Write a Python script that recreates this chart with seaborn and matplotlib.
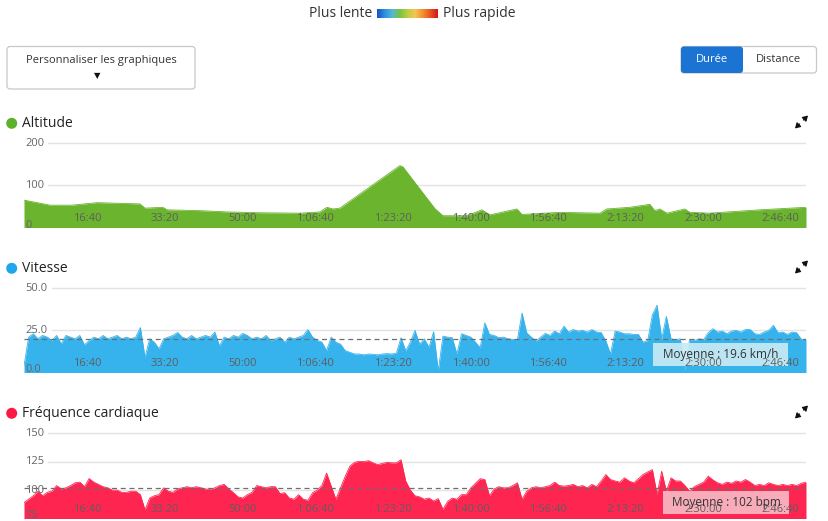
import numpy as np
import pandas as pd
import seaborn as sns
import matplotlib.pyplot as plt
from matplotlib.patches import FancyBboxPatch, Circle, FancyArrowPatch, Rectangle
from matplotlib.colors import LinearSegmentedColormap
from matplotlib.transforms import Affine2D

sns.set_theme(style="white")
plt.rcParams["font.family"] = ["Open Sans", "DejaVu Sans"]

W, H = 829, 521

# ---- data ----
tick_seconds = [1000, 2000, 3000, 4000, 5000, 6000, 7000, 8000, 9000, 10000]
tick_labels = ["16:40", "33:20", "50:00", "1:06:40", "1:23:20",
               "1:40:00", "1:56:40", "2:13:20", "2:30:00", "2:46:40"]
end_seconds = 10080

alt_time = [0, 142, 335, 619, 941, 1495, 1559, 1791, 1843, 2268, 2616, 3041,
            3557, 3814, 3905, 3982, 4072, 4845, 4884, 5296, 5399, 5709, 5902,
            6005, 6353, 6418, 6907, 7423, 7513, 7809, 8067, 8131, 8196, 8286,
            8518, 8582, 8840, 9485, 10080]
alt_values = [65, 60, 53, 53, 59, 56, 46, 48, 42, 40, 37, 35,
              34, 37, 48, 44, 46, 147, 144, 45, 28, 28, 42,
              30, 44, 31, 36, 34, 44, 48, 55, 40, 44, 34,
              44, 36, 34, 42, 48]

sample_step = 60  # seconds between samples
speed_values = [
    4, 21, 23, 20, 22, 21, 19, 22, 17, 22,
    21, 20, 22, 16.4, 19, 21, 20, 22, 20, 21,
    22, 20, 21, 20, 21, 26.7, 9, 20, 18, 14,
    20, 21, 22, 23.8, 21, 20, 22, 20, 21, 22,
    21, 24, 15.8, 21, 20, 22, 21, 23.2, 22, 20,
    21, 20, 22, 19, 20, 21, 18, 21, 20, 21,
    22, 25.5, 21, 19, 18, 13, 21, 18, 16.8, 13,
    12, 11, 11, 10.5, 11, 10.8, 10.5, 11, 11.2, 11,
    11.5, 20.7, 12.9, 18, 25, 16.8, 20, 15, 24.2, 1,
    21.6, 21, 20.7, 11, 23, 22, 21, 18, 14.8, 29.5,
    22.6, 22, 20.7, 21, 20, 19.7, 19.5, 35.3, 23.6, 21,
    18.7, 21, 23.2, 22, 24.6, 23, 27.5, 24, 25.5, 24.6,
    25, 24, 25.5, 24, 23.7, 18.7, 11, 24.6, 24, 23,
    23, 22.6, 22.6, 18, 19, 34.3, 40, 20, 33.3, 20,
    19.5, 20, 1.5, 19.5, 19, 20, 19.5, 23.6, 26, 24,
    24.6, 23, 24.6, 25, 24, 25.5, 25.5, 23, 22.6, 24,
    25, 28, 23.6, 24, 22.6, 24, 23.6, 19.7, 19.7,
]
hr_values = [
    89, 92, 95, 99, 95, 98, 99, 104, 101, 102,
    104, 106.4, 107, 103, 110.2, 107, 105, 103, 102, 100,
    100, 98, 98, 99, 99, 96, 82.6, 93, 95, 96,
    102, 99, 98, 101, 102, 103, 102, 103, 102, 101,
    100.6, 102, 104, 105, 101, 97.7, 94, 93, 96, 98,
    104, 103, 102, 103, 103, 97, 97.7, 93, 92, 96,
    92, 91, 97.7, 100, 104, 115, 103.5, 92, 102, 112,
    121, 124.4, 125.3, 125, 125.9, 124, 122.4, 123.5, 124.4, 124,
    124, 126.7, 108, 100, 95, 94, 92, 93, 90.4, 92.5,
    83, 90, 93, 92, 96, 96, 102, 106, 110, 109.3,
    95, 101, 103, 102, 102, 104, 106.4, 92, 99, 102,
    103, 102, 103, 104, 107, 104, 103.5, 104, 105, 103,
    104, 102, 105, 103, 108, 113.7, 109.3, 108, 107, 110.8,
    108, 106.4, 110, 113.7, 116, 118, 96.2, 116.6, 99, 110.8,
    108, 108, 104, 99, 103, 105, 107, 112.2, 109, 106.4,
    105, 107, 106, 108, 107, 109.3, 107, 104, 105, 104,
    106.4, 105, 104, 105, 104, 105, 104, 106, 107,
]
speed_avg = 19.6
hr_avg = 102

alt_df = pd.DataFrame({"t": alt_time, "v": alt_values})
speed_df = pd.DataFrame({"t": np.arange(len(speed_values)) * sample_step, "v": speed_values})
hr_df = pd.DataFrame({"t": np.arange(len(hr_values)) * sample_step, "v": hr_values})

# ---- figure ----
fig = plt.figure(figsize=(W / 100, H / 100), dpi=100)
pix = Affine2D().scale(1 / W, -1 / H).translate(0, 1) + fig.transFigure

# top legend
fig.text(372, 13.5, "Plus lente", transform=pix, ha="right", va="center", fontsize=10, color="#333")
fig.text(443, 13.5, "Plus rapide", transform=pix, ha="left", va="center", fontsize=10, color="#333")
cax = fig.add_axes([377 / W, 1 - 18.5 / H, 60 / W, 9.5 / H])
grad = LinearSegmentedColormap.from_list(
    "pace", ["#1452c4", "#2f8fe2", "#52b9d2", "#7cc142", "#b8cf45", "#f7c552", "#f39030", "#e9531e", "#d3171b"])
cax.imshow(np.linspace(0, 1, 256)[None, :], aspect="auto", cmap=grad)
cax.set_axis_off()

# customise button
fig.add_artist(FancyBboxPatch((7, 46.5), 188, 42.5, boxstyle="round,pad=0,rounding_size=3",
                              transform=pix, facecolor="white", edgecolor="#c8c8c8", lw=0.9))
fig.text(101, 60, "Personnaliser les graphiques", transform=pix, ha="center", va="center",
         fontsize=8, color="#333")
fig.text(97, 76, "▼", transform=pix, ha="center", va="center", fontsize=6, color="#111",
         family=["DejaVu Sans"])

# Durée / Distance toggle
fig.add_artist(FancyBboxPatch((681, 46.5), 135.5, 26.5, boxstyle="round,pad=0,rounding_size=3",
                              transform=pix, facecolor="white", edgecolor="#c8c8c8", lw=0.9))
fig.add_artist(FancyBboxPatch((681, 46.5), 62, 26.5, boxstyle="round,pad=0,rounding_size=3",
                              transform=pix, facecolor="#1b74d3", edgecolor="none"))
fig.text(712, 60, "Durée", transform=pix, ha="center", va="center", fontsize=8, color="white")
fig.text(778.5, 60, "Distance", transform=pix, ha="center", va="center", fontsize=8, color="#333")

panels = [
    dict(title="Altitude", df=alt_df, color="#6ab42e", dot="#5cb22a", box=(24, 140, 806, 227.5),
         ylim=(0, 207.8), grid=[100, 200], ylabels=[(200, "200"), (100, "100"), (5, "0")],
         gstart=0.031, avg=None, title_y=123.3),
    dict(title="Vitesse", df=speed_df, color="#36b3ec", dot="#1ea7ea", box=(24, 285, 806, 372.5),
         ylim=(0, 51.96), grid=[25, 50], ylabels=[(50, "50.0"), (25, "25.0"), (1.5, "0.0")],
         gstart=0.036, avg=(speed_avg, "Moyenne : 19.6 km/h", (653, 343, 135, 23), "#c9eaf4"),
         title_y=268.3),
    dict(title="Fréquence cardiaque", df=hr_df, color="#ff2551", dot="#ff1744", box=(24, 430, 806, 518.5),
         ylim=(75, 152.9), grid=[100, 125, 150], ylabels=[(150, "150"), (125, "125"), (100, "100"), (78, "75")],
         gstart=0.031, avg=(hr_avg, "Moyenne : 102 bpm", (663, 491, 126, 23), "#f8b9c4"),
         title_y=413.3),
]

for p in panels:
    x0, y0, x1, y1 = p["box"]
    ax = fig.add_axes([x0 / W, 1 - y1 / H, (x1 - x0) / W, (y1 - y0) / H])
    ax.set_xlim(0, end_seconds)
    ax.set_ylim(*p["ylim"])
    ax.set_axis_off()

    for g in p["grid"]:
        ax.axhline(g, xmin=p["gstart"], xmax=1, color="#e3e3e3", lw=1, zorder=1)

    d = p["df"]
    ax.fill_between(d["t"], p["ylim"][0], d["v"], color=p["color"], lw=0, zorder=2)
    sns.lineplot(data=d, x="t", y="v", ax=ax, color=p["color"], lw=0.6, zorder=2)
    ax.set_axis_off()

    ytr = ax.get_yaxis_transform()
    for val, lab in p["ylabels"]:
        ax.text(0.0015, val, lab, transform=ytr, ha="left", va="center", fontsize=8,
                color="#666", zorder=3, clip_on=False)

    if p["avg"] is not None:
        val, txt, (bx, by, bw, bh), bc = p["avg"]
        ax.axhline(val, color="#6e6e6e", lw=0.9, ls=(0, (4, 3)), zorder=4)
        ax.add_patch(Rectangle((bx, by), bw, bh, transform=pix, facecolor=bc, edgecolor="none",
                               alpha=0.92, zorder=5, clip_on=False))
        ax.text(bx + bw / 2, by + bh / 2, txt, transform=pix, ha="center", va="center",
                fontsize=8.5, color="#333", zorder=7, clip_on=False)

    for t, lab in zip(tick_seconds, tick_labels):
        ax.annotate(lab, xy=(t, 0), xycoords=("data", "axes fraction"), xytext=(0, 6.2),
                    textcoords="offset points", ha="right", va="center", fontsize=8,
                    color="#5e5e5e", zorder=6)

    # panel title with coloured dot
    ty = p["title_y"]
    fig.add_artist(Circle((11.7, ty), 5.5, transform=pix, facecolor=p["dot"], edgecolor="none"))
    fig.text(22.5, ty, p["title"], transform=pix, ha="left", va="center", fontsize=10, color="#222")

    # expand icon: two small arrows pointing outwards
    cx, cy = 801.5, ty - 1.3
    for (ax0, ay0), (ax1, ay1) in [((cx + 2, cy - 2), (cx + 6.5, cy - 6.5)),
                                   ((cx - 2, cy + 2), (cx - 6.5, cy + 6.5))]:
        fig.add_artist(FancyArrowPatch((ax0, ay0), (ax1, ay1), transform=pix,
                                       arrowstyle="-|>,head_length=0.5,head_width=0.3",
                                       mutation_scale=6, lw=0.9, color="#111",
                                       shrinkA=0, shrinkB=0))

fig.savefig("out.png", dpi=100, facecolor="white")
